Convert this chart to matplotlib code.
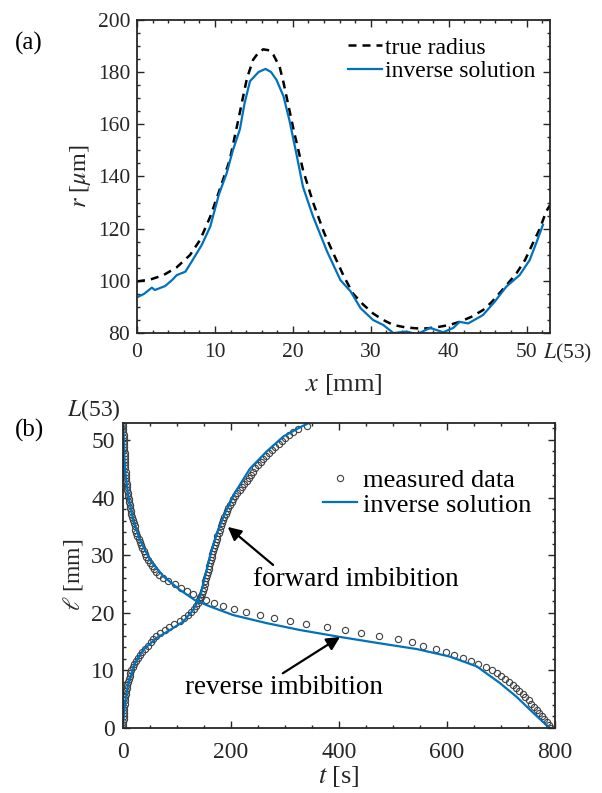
import matplotlib
matplotlib.use('Agg')
import matplotlib.pyplot as plt
from matplotlib.ticker import MultipleLocator

plt.rcParams['font.family'] = ['Liberation Serif', 'DejaVu Serif']
plt.rcParams['mathtext.fontset'] = 'stix'

blue = '#0072BD'
dark = '#262626'

# (a) radius along the tube
x_true = [0, 1.7, 3.4, 5.1, 6.8, 8.1, 9.4, 10.5, 11.9, 13.0, 14.1, 14.9, 15.6, 16.2, 17.0,
          17.5, 18.3, 18.8, 20.1, 21.3, 22.6, 24.0, 25.2, 26.5, 27.7, 29.0, 30.3, 31.6,
          32.9, 34.4, 35.9, 37.3, 38.8, 40.1, 41.4, 42.9, 44.4, 45.5, 46.5, 47.6, 48.7,
          49.8, 50.8, 51.7, 52.5, 53.0]
r_true = [99.8, 100.5, 102.2, 105.2, 109.9, 115.7, 124.6, 134.0, 146.3, 161.7, 177.5, 184.7,
          187.5, 188.7, 188.3, 186.6, 182.0, 176.0, 157.8, 142.5, 130.0, 118.5, 110.5, 102.0,
          95.2, 91.0, 87.5, 85.0, 83.1, 82.2, 81.8, 81.8, 82.4, 83.1, 84.3, 86.2, 88.8, 91.8,
          95.2, 99.0, 102.9, 108.0, 114.4, 120.0, 126.5, 129.0]

x_inv = [0, 0.9, 1.9, 2.3, 3.6, 4.5, 5.1, 6.2, 7.0, 8.3, 9.4, 10.5, 11.5, 12.3, 13.2, 13.8,
         14.5, 15.6, 16.5, 17.2, 17.9, 18.8, 19.6, 20.5, 21.3, 22.6, 24.4, 26.1, 27.4, 28.7,
         30.3, 31.6, 32.9, 34.6, 35.9, 37.6, 39.3, 40.6, 41.4, 42.5, 44.4, 45.9, 47.4, 49.1,
         50.4, 51.3, 52.1]
r_inv = [93.7, 95.0, 97.4, 96.5, 98.0, 100.3, 102.2, 103.5, 107.3, 113.7, 120.8, 133.0, 141.2,
         150.0, 158.0, 168.0, 176.5, 180.0, 181.2, 180.0, 177.0, 170.7, 161.0, 148.0, 136.0,
         124.6, 111.2, 100.3, 96.0, 89.5, 85.0, 83.1, 80.0, 80.6, 79.5, 82.0, 80.3, 82.0, 84.3,
         83.7, 86.9, 92.0, 97.8, 102.2, 108.0, 115.0, 121.5]

# (b) meniscus position vs time (measured at fixed positions)
ell_meas = [53.00, 52.47, 51.94, 51.41, 50.88, 50.35, 49.82, 49.29, 48.76, 48.23, 47.70, 47.17,
            46.64, 46.11, 45.58, 45.05, 44.52, 43.99, 43.46, 42.93, 42.40, 41.87, 41.34, 40.81,
            40.28, 39.75, 39.22, 38.69, 38.16, 37.63, 37.10, 36.57, 36.04, 35.51, 34.98, 34.45,
            33.92, 33.39, 32.86, 32.33, 31.80, 31.27, 30.74, 30.21, 29.68, 29.15, 28.62, 28.09,
            27.56, 27.03, 26.50, 25.97, 25.44, 24.91, 24.38, 23.85, 23.32, 22.79, 22.26, 21.73,
            21.20, 20.67, 20.14, 19.61, 19.08, 18.55, 18.02, 17.49, 16.96, 16.43, 15.90, 15.37,
            14.84, 14.31, 13.78, 13.25, 12.72, 12.19, 11.66, 11.13, 10.60, 10.07, 9.54, 9.01,
            8.48, 7.95, 7.42, 6.89, 6.36, 5.83, 5.30, 4.77, 4.24, 3.71, 3.18, 2.65, 2.12, 1.59,
            1.06, 0.53, 0.00]
t_rev = [0.0, 0.3, 0.6, 0.9, 1.2, 1.4, 1.6, 1.9, 2.2, 2.5, 2.8, 3.1, 3.4, 3.7, 4.0, 4.4, 4.8,
         5.2, 5.7, 6.2, 6.7, 7.3, 7.9, 8.6, 9.4, 10.3, 11.2, 12.2, 13.3, 14.4, 15.6, 16.9, 18.3,
         19.8, 21.4, 23.1, 24.9, 26.8, 28.8, 30.9, 33.1, 35.5, 38.0, 40.7, 43.5, 46.5, 49.8,
         53.3, 57.0, 61.0, 66.0, 75.0, 84.0, 96.0, 108.0, 118.0, 129.0, 142.0, 154.0, 169.0,
         186.0, 206.0, 228.0, 254.0, 280.0, 310.0, 339.0, 377.0, 411.0, 441.0, 474.0, 509.0,
         536.0, 556.0, 580.0, 598.0, 613.0, 629.0, 645.0, 658.0, 672.0, 683.0, 692.0, 700.0,
         708.0, 715.0, 722.0, 728.0, 734.0, 740.0, 745.0, 751.0, 756.0, 762.0, 767.0, 771.0,
         776.0, 780.0, 785.0, 789.0, 793.0]
# forward front: no reading at 53.00 mm
t_fwd = [None, 340.0, 324.0, 314.0, 307.0, 300.0, 294.0, 288.0, 282.0, 276.0, 270.0, 265.0,
         260.0, 255.0, 250.0, 245.0, 241.0, 237.0, 233.0, 229.0, 225.0, 221.0, 217.0, 212.0,
         208.0, 204.5, 201.0, 198.0, 195.0, 192.5, 190.0, 187.5, 185.0, 183.0, 181.0, 179.0,
         177.0, 175.0, 173.5, 172.0, 170.0, 168.5, 167.0, 165.5, 164.5, 163.0, 161.5, 160.0,
         158.5, 157.0, 155.5, 154.0, 152.5, 151.0, 149.5, 148.0, 146.0, 144.0, 141.5, 138.5,
         135.0, 131.0, 126.0, 120.0, 113.0, 105.0, 95.0, 86.0, 77.0, 69.0, 62.0, 56.5, 51.0,
         45.5, 40.5, 36.0, 32.0, 28.0, 24.5, 21.0, 18.0, 15.0, 13.6, 12.2, 10.8, 9.5, 8.3, 7.2,
         6.2, 5.3, 4.5, 3.8, 3.2, 2.7, 2.2, 1.8, 1.4, 1.1, 0.9, 0.7, 0.5]

t_inv_rev = [0, 0.6, 2.0, 3.7, 9.9, 19, 31, 50, 75, 105, 133, 161, 204, 266, 328, 402, 482,
             544, 605, 655, 698, 729, 760, 790]
ell_inv_rev = [53, 52.6, 48.5, 44.8, 40.2, 36.1, 32.7, 29.2, 26.3, 24.0, 22.2, 21.1, 19.6,
               18.2, 17.0, 15.8, 14.6, 13.7, 12.4, 10.7, 7.8, 5.4, 2.6, 0.0]
t_inv_fwd = [0, 1, 3.7, 9.9, 22, 37.7, 62, 87, 112, 130, 143, 152, 161, 174, 189, 207, 235,
             266, 297, 328, 343]
ell_inv_fwd = [0, 1.5, 4.3, 7.8, 11.2, 13.6, 15.6, 17.0, 18.5, 20.5, 22.8, 26.3, 29.8, 33.8,
               37.3, 40.8, 45.0, 48.0, 50.6, 52.2, 52.9]

fig = plt.figure(figsize=(6.02, 7.93), dpi=100)


def style_axes(ax, size, xpad, ypad):
    for s in ax.spines.values():
        s.set_linewidth(1.3)
        s.set_color(dark)
    ax.tick_params(which='both', direction='in', top=True, right=True, colors=dark,
                   labelcolor=dark, width=1.0)
    ax.tick_params(which='major', length=5, labelsize=size)
    ax.tick_params(which='minor', length=2.5)
    ax.tick_params(axis='x', which='major', pad=xpad)
    ax.tick_params(axis='y', which='major', pad=ypad)


# ---- (a)
ax1 = fig.add_axes([0.2276, 0.58, 0.686, 0.395])
ax1.plot(x_true, r_true, '--', color='k', lw=1.8, dashes=(3.2, 2.4), label='true radius')
ax1.plot(x_inv, r_inv, '-', color=blue, lw=1.6, label='inverse solution')
ax1.set_xlim(0, 53)
ax1.set_ylim(80, 200)
ax1.xaxis.set_major_locator(MultipleLocator(10))
ax1.xaxis.set_minor_locator(MultipleLocator(2))
ax1.yaxis.set_major_locator(MultipleLocator(20))
ax1.yaxis.set_minor_locator(MultipleLocator(5))
style_axes(ax1, 15.5, 7, 5)
ax1.set_xticks([0, 10, 20, 30, 40, 50])
ax1.set_xlabel(r'$x$ [mm]', fontsize=19, color=dark, labelpad=7)
ax1.set_ylabel(r'$r$ [$\mu$m]', fontsize=17.5, color=dark, labelpad=3)
ax1.text(0.982, -0.027, r'$L$(53)', transform=ax1.transAxes, ha='left', va='top',
         fontsize=15.5, color=dark)
ax1.legend(loc='upper left', frameon=False, fontsize=17, handlelength=1.45,
           handletextpad=0.1, borderpad=0, borderaxespad=0, labelspacing=0.1,
           bbox_to_anchor=(0.511, 0.945))
fig.text(0.025, 0.938, '(a)', fontsize=18, color='k')

# ---- (b)
ax2 = fig.add_axes([0.2043, 0.082, 0.7176, 0.385])
ax2.plot(t_rev, ell_meas, 'o', ms=4.5, mfc='none', mec='#404040', mew=0.8,
         label='measured data')
fwd_pts = [(t, e) for t, e in zip(t_fwd, ell_meas) if t is not None]
ax2.plot([p[0] for p in fwd_pts], [p[1] for p in fwd_pts], 'o', ms=4.5, mfc='none',
         mec='#404040', mew=0.8)
ax2.plot(t_inv_rev, ell_inv_rev, '-', color=blue, lw=1.6, label='inverse solution')
ax2.plot(t_inv_fwd, ell_inv_fwd, '-', color=blue, lw=1.6)
ax2.set_xlim(0, 800)
ax2.set_ylim(0, 53)
ax2.xaxis.set_major_locator(MultipleLocator(200))
ax2.xaxis.set_minor_locator(MultipleLocator(50))
ax2.yaxis.set_major_locator(MultipleLocator(10))
ax2.yaxis.set_minor_locator(MultipleLocator(2))
style_axes(ax2, 17, 10, 6)
ax2.set_xlabel(r'$t$ [s]', fontsize=19, color=dark, labelpad=1)
ax2.set_ylabel(r'$\ell$ [mm]', fontsize=17, color=dark, labelpad=4)
ax2.text(-0.005, 1.0, r'$L$(53)', transform=ax2.transAxes, ha='right', va='bottom',
         fontsize=17, color=dark)
ax2.legend(loc='upper left', frameon=False, fontsize=19, handlelength=1.3,
           handletextpad=0.2, borderpad=0, borderaxespad=0, labelspacing=0.05,
           bbox_to_anchor=(0.463, 0.85))
arrow = dict(arrowstyle='-|>', color='k', lw=1.6, shrinkA=0, shrinkB=0, mutation_scale=20)
ax2.annotate('', xy=(194, 34.9), xytext=(278, 28.3), arrowprops=arrow)
ax2.text(432, 25.7, 'forward imbibition', ha='center', va='center', fontsize=19.5)
ax2.annotate('', xy=(402, 15.8), xytext=(296, 9.5), arrowprops=arrow)
ax2.text(298, 7.0, 'reverse imbibition', ha='center', va='center', fontsize=19.5)
fig.text(0.025, 0.45, '(b)', fontsize=18, color='k')

fig.savefig('out.png', dpi=100)
